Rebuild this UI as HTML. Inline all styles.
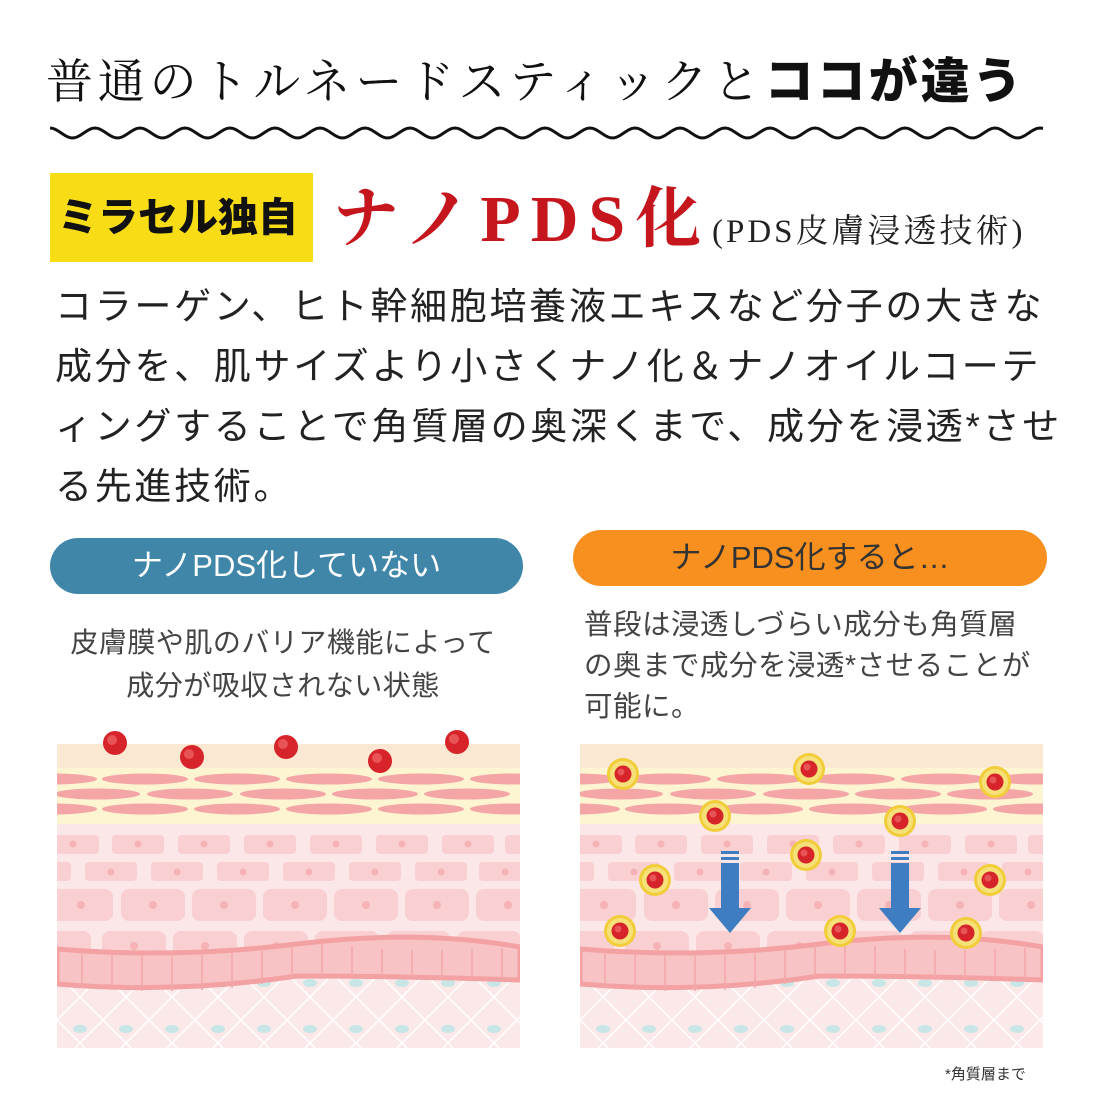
<!DOCTYPE html>
<html><head><meta charset="utf-8"><style>
body{margin:0;width:1100px;height:1100px;background:#fff;position:relative;overflow:hidden;font-family:"Liberation Sans","Noto Sans CJK JP",sans-serif;color:#222}
.a{position:absolute;white-space:nowrap}
</style></head><body>
<div class="a" style="left:46px;top:52px;font-family:'Liberation Serif','Noto Serif CJK SC',serif;font-size:47px;letter-spacing:4.8px;line-height:60px;color:#111">普通のトルネードスティックと<b style="font-family:'Liberation Sans','Noto Sans CJK JP',sans-serif;font-weight:900;letter-spacing:3px;font-size:49px">ココが違う</b></div>
<svg class="a" style="left:0;top:0" width="1100" height="1100">
<path id="wv" d="" fill="none" stroke="#111" stroke-width="3"/>
</svg>
<script>
(function(){var d="";for(var i=0;i<=995;i+=3){var y=133-5*Math.cos(i/45*2*Math.PI);d+=(i?"L":"M")+(50+i)+" "+y.toFixed(1);}
document.getElementById("wv").setAttribute("d",d);})();
</script>
<div class="a" style="left:50px;top:173px;width:263px;height:89px;background:#f7dc16"></div>
<div class="a" style="left:58px;top:190px;font-size:40px;font-weight:900;line-height:56px;color:#111">ミラセル独自</div>
<div class="a" style="left:333px;top:180px;font-family:'Liberation Serif','Noto Serif CJK SC',serif;font-size:66px;font-weight:bold;color:#c4161c;line-height:80px;letter-spacing:10px">ナノPDS化</div>
<div class="a" style="left:712px;top:210px;font-family:'Liberation Serif','Noto Serif CJK SC',serif;font-size:33px;line-height:44px;color:#222;letter-spacing:3px">(PDS皮膚浸透技術)</div>
<div class="a" style="left:55px;top:277px;font-size:37px;letter-spacing:2.7px;line-height:60px;color:#222;white-space:normal;width:1040px">コラーゲン、ヒト幹細胞培養液エキスなど分子の大きな<br>成分を、肌サイズより小さくナノ化＆ナノオイルコーテ<br>ィングすることで角質層の奥深くまで、成分を浸透*させ<br>る先進技術。</div>
<div class="a" style="left:50px;top:538px;width:473px;height:56px;border-radius:28px;background:#3f86a8;color:#fff;font-size:31px;line-height:56px;text-align:center">ナノPDS化していない</div>
<div class="a" style="left:573px;top:530px;width:474px;height:56px;border-radius:28px;background:#f7901e;color:#333;font-size:31px;line-height:56px;text-align:center">ナノPDS化すると…</div>
<div class="a" style="left:50px;top:621px;width:466px;text-align:center;font-size:28px;letter-spacing:0.5px;line-height:43px;color:#444">皮膚膜や肌のバリア機能によって<br>成分が吸収されない状態</div>
<div class="a" style="left:584px;top:605px;font-size:28.5px;letter-spacing:0.5px;line-height:41px;color:#444">普段は浸透しづらい成分も角質層<br>の奥まで成分を浸透*させることが<br>可能に。</div>
<div class="a" style="left:945px;top:1063px;font-size:15px;color:#333">*角質層まで</div>
<svg class="a" style="left:0;top:0" width="1100" height="1100">
<defs>
<clipPath id="cp"><rect width="463" height="304"/></clipPath>
<pattern id="lat" width="46" height="46" patternUnits="userSpaceOnUse">
<rect width="46" height="46" fill="#fbe9ea"/>
<path d="M0 0L46 46M46 0L0 46" stroke="#fff" stroke-width="1.5"/>
<ellipse cx="23" cy="9" rx="7" ry="4" fill="#c9e6e6"/>
</pattern>
<g id="skin" clip-path="url(#cp)">
<rect width="463" height="304" fill="#fbe6e8"/>
<rect width="463" height="24" fill="#fbe8d2"/>
<rect y="24" width="463" height="56" fill="#fdf4d2"/>
<g fill="#f4a6a6">
<ellipse cx="-5" cy="35" rx="45" ry="5.5"/><ellipse cx="88" cy="35" rx="43" ry="5.5"/><ellipse cx="180" cy="35" rx="43" ry="5.5"/><ellipse cx="272" cy="35" rx="43" ry="5.5"/><ellipse cx="364" cy="35" rx="43" ry="5.5"/><ellipse cx="456" cy="35" rx="43" ry="5.5"/>
<ellipse cx="40" cy="50" rx="43" ry="5.5"/><ellipse cx="133" cy="50" rx="43" ry="5.5"/><ellipse cx="226" cy="50" rx="43" ry="5.5"/><ellipse cx="318" cy="50" rx="43" ry="5.5"/><ellipse cx="410" cy="50" rx="43" ry="5.5"/>
<ellipse cx="-5" cy="65" rx="45" ry="5.5"/><ellipse cx="88" cy="65" rx="43" ry="5.5"/><ellipse cx="180" cy="65" rx="43" ry="5.5"/><ellipse cx="272" cy="65" rx="43" ry="5.5"/><ellipse cx="364" cy="65" rx="43" ry="5.5"/><ellipse cx="456" cy="65" rx="43" ry="5.5"/>
</g>
<g fill="#f9cfd1">
<rect x="-10" y="91" width="52" height="19" rx="4"/><rect x="55" y="91" width="52" height="19" rx="4"/><rect x="121" y="91" width="52" height="19" rx="4"/><rect x="187" y="91" width="52" height="19" rx="4"/><rect x="253" y="91" width="52" height="19" rx="4"/><rect x="319" y="91" width="52" height="19" rx="4"/><rect x="385" y="91" width="52" height="19" rx="4"/><rect x="448" y="91" width="52" height="19" rx="4"/>
<rect x="-38" y="118" width="52" height="19" rx="4"/><rect x="28" y="118" width="52" height="19" rx="4"/><rect x="94" y="118" width="52" height="19" rx="4"/><rect x="160" y="118" width="52" height="19" rx="4"/><rect x="226" y="118" width="52" height="19" rx="4"/><rect x="292" y="118" width="52" height="19" rx="4"/><rect x="358" y="118" width="52" height="19" rx="4"/><rect x="422" y="118" width="52" height="19" rx="4"/>
<rect x="-8" y="145" width="64" height="32" rx="8"/><rect x="64" y="145" width="64" height="32" rx="8"/><rect x="135" y="145" width="64" height="32" rx="8"/><rect x="206" y="145" width="64" height="32" rx="8"/><rect x="277" y="145" width="64" height="32" rx="8"/><rect x="348" y="145" width="64" height="32" rx="8"/><rect x="419" y="145" width="64" height="32" rx="8"/>
<rect x="-30" y="187" width="64" height="32" rx="8"/><rect x="45" y="187" width="64" height="32" rx="8"/><rect x="116" y="187" width="64" height="32" rx="8"/><rect x="187" y="187" width="64" height="32" rx="8"/><rect x="258" y="187" width="64" height="32" rx="8"/><rect x="329" y="187" width="64" height="32" rx="8"/><rect x="400" y="187" width="64" height="32" rx="8"/>
</g>
<g fill="#f5b3b5">
<circle cx="16" cy="100" r="3.5"/><circle cx="81" cy="100" r="3.5"/><circle cx="147" cy="100" r="3.5"/><circle cx="213" cy="100" r="3.5"/><circle cx="279" cy="100" r="3.5"/><circle cx="345" cy="100" r="3.5"/><circle cx="411" cy="100" r="3.5"/>
<circle cx="54" cy="128" r="3.5"/><circle cx="120" cy="128" r="3.5"/><circle cx="186" cy="128" r="3.5"/><circle cx="252" cy="128" r="3.5"/><circle cx="318" cy="128" r="3.5"/><circle cx="384" cy="128" r="3.5"/><circle cx="448" cy="128" r="3.5"/>
<circle cx="24" cy="161" r="4"/><circle cx="96" cy="161" r="4"/><circle cx="167" cy="161" r="4"/><circle cx="238" cy="161" r="4"/><circle cx="309" cy="161" r="4"/><circle cx="380" cy="161" r="4"/><circle cx="451" cy="161" r="4"/>
<circle cx="77" cy="202" r="4"/><circle cx="148" cy="202" r="4"/><circle cx="219" cy="202" r="4"/><circle cx="290" cy="202" r="4"/><circle cx="361" cy="202" r="4"/><circle cx="432" cy="202" r="4"/>
</g>
<path d="M0 240 Q120 250 240 232 T463 236 L463 304 L0 304Z" fill="url(#lat)"/>
<path d="M0 205 Q120 215 240 200 T463 203 L463 236 Q350 232 240 232 Q120 250 0 240Z" fill="#f8c3c4" stroke="#f3a1a3" stroke-width="5"/>
<g stroke="#f3a8aa" stroke-width="1.5">
<path d="M25 208V244M55 210V246M85 211V247M115 212V247M145 211V246M175 209V244M205 205V240M235 201V235M265 200V233M295 202V232M325 205V232M355 206V233M385 206V234M415 205V235M445 204V236"/>
</g>
</g>
<g id="p1"><circle r="12" fill="#d6242a"/><circle cx="-3" cy="-3" r="5" fill="#f06a6a" opacity=".7"/></g>
<g id="p2"><circle r="16" fill="#f1cd3a"/><circle r="13" fill="#f6e07a"/><circle r="8.5" fill="#d6242a"/><circle cx="-2" cy="-2" r="3.5" fill="#f06a6a" opacity=".7"/></g>
<g id="ar"><rect x="-9" y="0" width="18" height="3" fill="#3f7dc2"/><rect x="-9" y="6" width="18" height="3" fill="#3f7dc2"/><rect x="-9" y="12" width="18" height="48" fill="#3f7dc2"/><path d="M-21 57H21L0 82Z" fill="#3f7dc2"/></g>
</defs>
<use href="#skin" x="57" y="744"/>
<use href="#skin" x="580" y="744"/>
<use href="#p1" x="115" y="743"/><use href="#p1" x="192" y="757"/><use href="#p1" x="286" y="747"/><use href="#p1" x="380" y="761"/><use href="#p1" x="457" y="742"/>
<use href="#ar" x="730" y="851"/><use href="#ar" x="900" y="851"/>
<g transform="translate(580 744)">
<use href="#p2" x="43" y="30"/><use href="#p2" x="229" y="25"/><use href="#p2" x="415" y="38"/><use href="#p2" x="135" y="72"/><use href="#p2" x="320" y="77"/><use href="#p2" x="226" y="111"/><use href="#p2" x="75" y="136"/><use href="#p2" x="410" y="136"/><use href="#p2" x="40" y="187"/><use href="#p2" x="260" y="187"/><use href="#p2" x="386" y="189"/>
</g>
</svg>
</body></html>
